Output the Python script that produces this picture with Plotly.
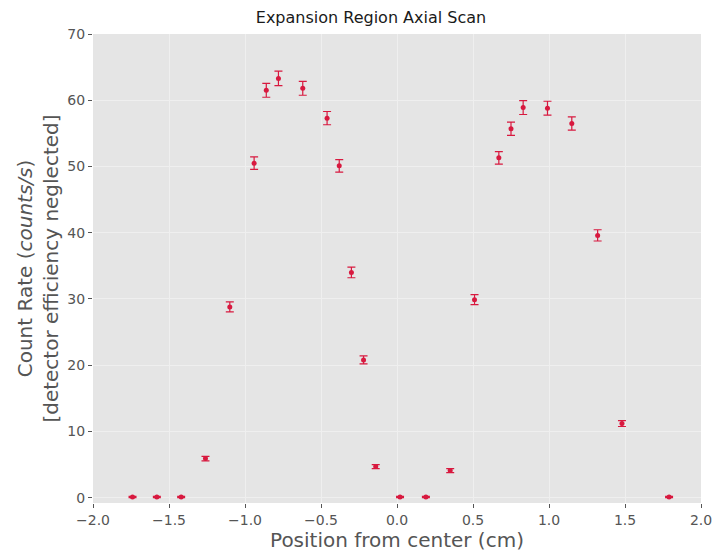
import plotly.graph_objects as go

# Axial scan of the expansion region: detector position vs. count rate
position_cm = [-1.74, -1.58, -1.42, -1.26, -1.10, -0.94, -0.86, -0.78, -0.62,
               -0.46, -0.38, -0.30, -0.22, -0.14, 0.02, 0.19, 0.35, 0.51,
               0.67, 0.75, 0.83, 0.99, 1.15, 1.32, 1.48, 1.79]
count_rate = [0.1, 0.1, 0.1, 5.9, 28.8, 50.5, 61.5, 63.3, 61.8,
              57.3, 50.1, 34.0, 20.8, 4.7, 0.1, 0.1, 4.1, 29.9,
              51.3, 55.7, 58.9, 58.8, 56.5, 39.6, 11.2, 0.1]
rate_err = [0.1, 0.1, 0.1, 0.35, 0.75, 0.95, 1.05, 1.1, 1.05,
            1.0, 0.95, 0.8, 0.6, 0.3, 0.1, 0.1, 0.3, 0.75,
            0.95, 1.0, 1.05, 1.05, 1.0, 0.85, 0.45, 0.1]

x_ticks = [-2.0, -1.5, -1.0, -0.5, 0.0, 0.5, 1.0, 1.5, 2.0]
y_ticks = [0, 10, 20, 30, 40, 50, 60, 70]

red = "#d8193f"
tick_grey = "#555555"

fig = go.Figure(
    go.Scatter(
        x=position_cm,
        y=count_rate,
        mode="markers",
        marker=dict(color=red, size=5),
        error_y=dict(type="data", array=rate_err, visible=True,
                     color=red, thickness=1.2, width=4),
        showlegend=False,
    )
)

fig.update_layout(
    width=712,
    height=555,
    margin=dict(l=93, r=11, t=34, b=52, autoexpand=False),
    paper_bgcolor="white",
    plot_bgcolor="#e5e5e5",
    font=dict(family="DejaVu Sans", color=tick_grey),
    title=dict(
        text="Expansion Region Axial Scan",
        x=371 / 712, xanchor="center",
        y=1 - 17 / 555, yanchor="middle",
        font=dict(size=16, color="#1a1a1a"),
    ),
)

fig.update_xaxes(
    range=[-2.0, 2.0],
    tickvals=x_ticks,
    ticktext=[f"{v:.1f}".replace("-", "\u2212") for v in x_ticks],
    ticks="outside", ticklen=4, tickcolor=tick_grey,
    tickfont=dict(size=14, color=tick_grey),
    ticklabeloverflow="allow",
    showgrid=True, gridcolor="#efefef", gridwidth=1,
    zeroline=False, showline=False, automargin=False,
    title=dict(text="Position from center (cm)",
               font=dict(size=20, color=tick_grey), standoff=4),
)

fig.update_yaxes(
    range=[-0.8, 70],
    tickvals=y_ticks,
    ticks="outside", ticklen=4, tickcolor=tick_grey,
    tickfont=dict(size=14, color=tick_grey),
    showgrid=True, gridcolor="#efefef", gridwidth=1,
    zeroline=False, showline=False, automargin=False,
    title=dict(text="Count Rate (<i>counts/s</i>)<br>[detector efficiency neglected]",
               font=dict(size=20, color=tick_grey), standoff=3),
)

fig.write_html("out.html")
